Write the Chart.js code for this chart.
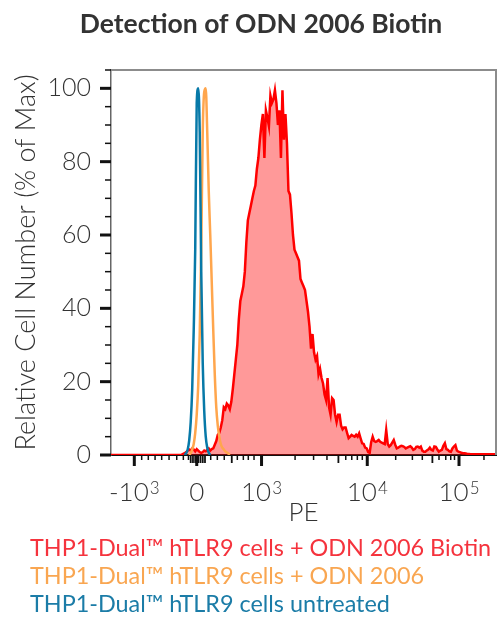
<!DOCTYPE html>
<html>
<head>
<meta charset="utf-8">
<script src="https://cdn.jsdelivr.net/npm/chart.js@4.4.1/dist/chart.umd.min.js"></script>
<style>
  html, body { margin: 0; padding: 0; background: #fff; }
  #wrap { width: 499px; height: 617px; position: relative; }
</style>
</head>
<body>
<div id="wrap"><canvas id="myChart"></canvas></div>
<script>
// PE axis is shown in display channels (0..256, biexponential display)
const redStart = 0;
const redValues = [
  0, 0, 0, 0, 0, 0, 0, 0, 0, 0, 0, 0, 0, 0, 0, 0,
  0, 0, 0, 0, 0, 0, 0, 0, 0, 0, 0, 0, 0, 0, 0, 0,
  0, 0, 0, 0, 0, 0, 0, 0, 0, 0, 0, 0, 0, 0, 0, 0.1,
  0.3, 0.5, 0.8, 1.2, 1.5, 1.2, 1.8, 1.5, 1.0, 1.6, 1.2, 0.8, 0.6, 0.8, 1.2, 1.0,
  1.4, 1.8, 1.2, 1.6, 1.8, 2.8, 3.8, 5.5, 6.0, 7.5, 9.5, 13, 12.5, 14, 13.5, 12.5,
  14.5, 18, 22, 26, 30, 37, 42, 44, 46, 50, 58, 64, 66, 68, 70, 72,
  73.5, 78, 81, 86, 90, 93, 81, 94, 92, 89.7, 98, 96, 97, 99.5, 96, 90,
  94, 81, 99.5, 86, 93, 85, 72, 71, 66, 60, 56, 55, 54, 53, 48, 47,
  46, 45, 42, 39, 35, 29, 33, 28, 26, 27, 22, 23.5, 21, 19.5, 16.5, 15,
  21, 13, 11, 15.5, 15, 11, 9, 11, 11, 8, 7, 7.5, 7.5, 6, 4.6, 5,
  5.5, 5.2, 5, 5.5, 5, 5.9, 4.5, 3.2, 3, 2, 1.8, 0.8, 0.6, 3.5, 5, 3.8,
  3.6, 3.8, 4.1, 3.6, 3.4, 3.2, 3, 6.8, 3, 2.3, 2.7, 3.4, 4.1, 2.8, 1.8, 2,
  2.3, 2.5, 2.4, 2.2, 1.8, 2, 2.2, 2.4, 2, 1.4, 1.6, 2.2, 2.3, 2, 2.3, 1.2,
  0.9, 0.9, 1.2, 1.5, 2, 1.4, 1.2, 2.3, 2.2, 1.5, 0.9, 1.2, 1.4, 2.5, 3.2, 1.6,
  1.4, 1, 0.9, 1.8, 2.3, 2.7, 1.2, 0.9, 0.8, 0.6, 0.5, 0.5, 0.4, 0.3, 0.3, 0.2,
  0.2, 0.2, 0.2, 0.2, 0.2, 0.2, 0.2, 0.2, 0.2, 0.2, 0.2, 0.2, 0.2, 0.2, 0.2, 0.2,
  0.2
];
const orangeStart = 52;
const orangeValues = [0, 0.5, 1.5, 3, 6, 11, 19, 33, 56, 88, 99, 100, 88, 72, 60, 47,
  34, 22, 13, 8, 5, 3, 2, 1.5, 1, 0.7, 0.4, 0];
const blueStart = 49;
const blueValues = [0, 0.5, 1.5, 4, 9, 18, 34, 56, 96, 100, 88, 50, 25, 12, 5, 2, 0.6, 0];

const seriesLabels = [
  'THP1-Dual™ hTLR9 cells + ODN 2006 Biotin',
  'THP1-Dual™ hTLR9 cells + ODN 2006',
  'THP1-Dual™ hTLR9 cells untreated'
];
const seriesColors = ['#ff0000', '#ffa64d', '#0779a8'];
const legendColors = ['#f5333d', '#f9a651', '#1b7ca7'];

const xTickChannels = [15.5, 57.0, 100.1, 170.4, 231.4];
const xTickLabels = [['-10', '3'], ['0', ''], ['10', '3'], ['10', '4'], ['10', '5']];
const xMidTicks = [53, 54.5, 56, 58, 59.5, 61, 62.5, 80.3, 151.2, 213.7];
const xMinorTicks = [20.4, 24.8, 29.3, 33.7, 38.6, 43.7, 48.1, 51.5, 66.3, 70.7, 75.3,
  84.0, 88.0, 91.3, 95.1, 122.4, 134.7, 143.6, 156.1, 160.1, 163.8, 167.1,
  189.3, 200.4, 207.0, 218.1, 222.6, 225.9, 228.4, 248.0];
const yMajorTicks = [0, 20, 40, 60, 80, 100];
const yMinorTicks = [5, 10, 15, 25, 30, 35, 45, 50, 55, 65, 70, 75, 85, 90, 95, 105];

function toPoints(start, values) {
  return values.map(function (v, i) { return { x: start + i, y: v }; });
}

const frame = {
  id: 'frame',
  afterDraw: function (chart) {
    const ctx = chart.ctx;
    const a = chart.chartArea;
    const xs = chart.scales.x;
    const ys = chart.scales.y;
    ctx.save();

    // grey box top + right
    ctx.strokeStyle = '#8c8c8c';
    ctx.lineWidth = 2;
    ctx.beginPath();
    ctx.moveTo(a.left, a.top);
    ctx.lineTo(a.right, a.top);
    ctx.lineTo(a.right, a.bottom);
    ctx.stroke();

    ctx.strokeStyle = '#111';
    function xTick(ch, len, w) {
      const px = xs.getPixelForValue(ch);
      ctx.lineWidth = w;
      ctx.beginPath();
      ctx.moveTo(px, a.bottom);
      ctx.lineTo(px, a.bottom + len);
      ctx.stroke();
    }
    function yTick(v, len, w) {
      const py = ys.getPixelForValue(v);
      ctx.lineWidth = w;
      ctx.beginPath();
      ctx.moveTo(a.left, py);
      ctx.lineTo(a.left - len, py);
      ctx.stroke();
    }
    xMinorTicks.forEach(function (c) { xTick(c, 5, 1.5); });
    xMidTicks.forEach(function (c) { xTick(c, 8, 1.8); });
    xTickChannels.forEach(function (c) { xTick(c, 11, 3); });
    yMinorTicks.forEach(function (v) { yTick(v, 6, 1.5); });
    yMajorTicks.forEach(function (v) { yTick(v, 11, 3); });

    // x tick labels with superscript exponents
    ctx.fillStyle = '#333';
    ctx.textBaseline = 'alphabetic';
    ctx.textAlign = 'left';
    xTickChannels.forEach(function (c, i) {
      const base = xTickLabels[i][0];
      const exp = xTickLabels[i][1];
      ctx.font = '300 26px Lato';
      const wb = ctx.measureText(base).width;
      ctx.font = '300 17px Lato';
      const we = exp ? ctx.measureText(exp).width + 1 : 0;
      const x0 = xs.getPixelForValue(c) - (wb + we) / 2;
      ctx.font = '300 26px Lato';
      ctx.fillText(base, x0, 501);
      if (exp) {
        ctx.font = '300 17px Lato';
        ctx.fillText(exp, x0 + wb + 1, 494);
      }
    });

    // title
    ctx.font = 'bold 26.5px Lato';
    ctx.textAlign = 'center';
    ctx.fillStyle = '#333';
    ctx.fillText('Detection of ODN 2006 Biotin', 261, 33);

    // legend, text only
    ctx.textAlign = 'left';
    ctx.font = '400 23.4px Lato';
    const rows = [556, 583.5, 611.5];
    seriesLabels.forEach(function (t, i) {
      ctx.fillStyle = legendColors[i];
      ctx.fillText(t, 30, rows[i]);
    });
    ctx.restore();
  }
};

const ctx = document.getElementById('myChart');

new Chart(ctx, {
  type: 'line',
  data: {
    datasets: [{
      label: seriesLabels[0],
      data: toPoints(redStart, redValues),
      borderColor: seriesColors[0],
      backgroundColor: 'rgba(255, 0, 0, 0.4)',
      borderWidth: 2.5,
      fill: 'origin',
      tension: 0,
      order: 3
    }, {
      label: seriesLabels[1],
      data: toPoints(orangeStart, orangeValues),
      borderColor: seriesColors[1],
      borderWidth: 2.5,
      fill: false,
      cubicInterpolationMode: 'monotone',
      order: 2
    }, {
      label: seriesLabels[2],
      data: toPoints(blueStart, blueValues),
      borderColor: seriesColors[2],
      borderWidth: 2.5,
      fill: false,
      cubicInterpolationMode: 'monotone',
      order: 1
    }]
  },
  options: {
    responsive: true,
    maintainAspectRatio: false,
    animation: false,
    elements: { point: { radius: 0 } },
    layout: { padding: { top: 70, right: 3, bottom: 89, left: 0 } },
    plugins: {
      legend: { display: false },
      tooltip: { enabled: false }
    },
    scales: {
      x: {
        type: 'linear',
        min: 0,
        max: 256,
        ticks: { display: false },
        grid: { display: false, drawTicks: false },
        border: { color: '#111', width: 2 },
        title: {
          display: true,
          text: 'PE',
          color: '#333',
          font: { family: 'Lato', size: 26, weight: '300' },
          padding: 0
        },
        afterFit: function (scale) { scale.height = 73; }
      },
      y: {
        min: 0,
        max: 105,
        afterBuildTicks: function (scale) {
          scale.ticks = yMajorTicks.map(function (v) { return { value: v }; });
        },
        ticks: {
          color: '#333',
          padding: 20,
          font: { family: 'Lato', size: 25, weight: '300' }
        },
        grid: { display: false, drawTicks: false },
        border: { color: '#666', width: 1.5 },
        title: {
          display: true,
          text: 'Relative Cell Number (% of Max)',
          color: '#333',
          font: { family: 'Lato', size: 27, weight: '300' },
          padding: { top: 10, bottom: 0 }
        },
        afterFit: function (scale) { scale.width = 111; }
      }
    }
  },
  plugins: [frame]
});
</script>
</body>
</html>
